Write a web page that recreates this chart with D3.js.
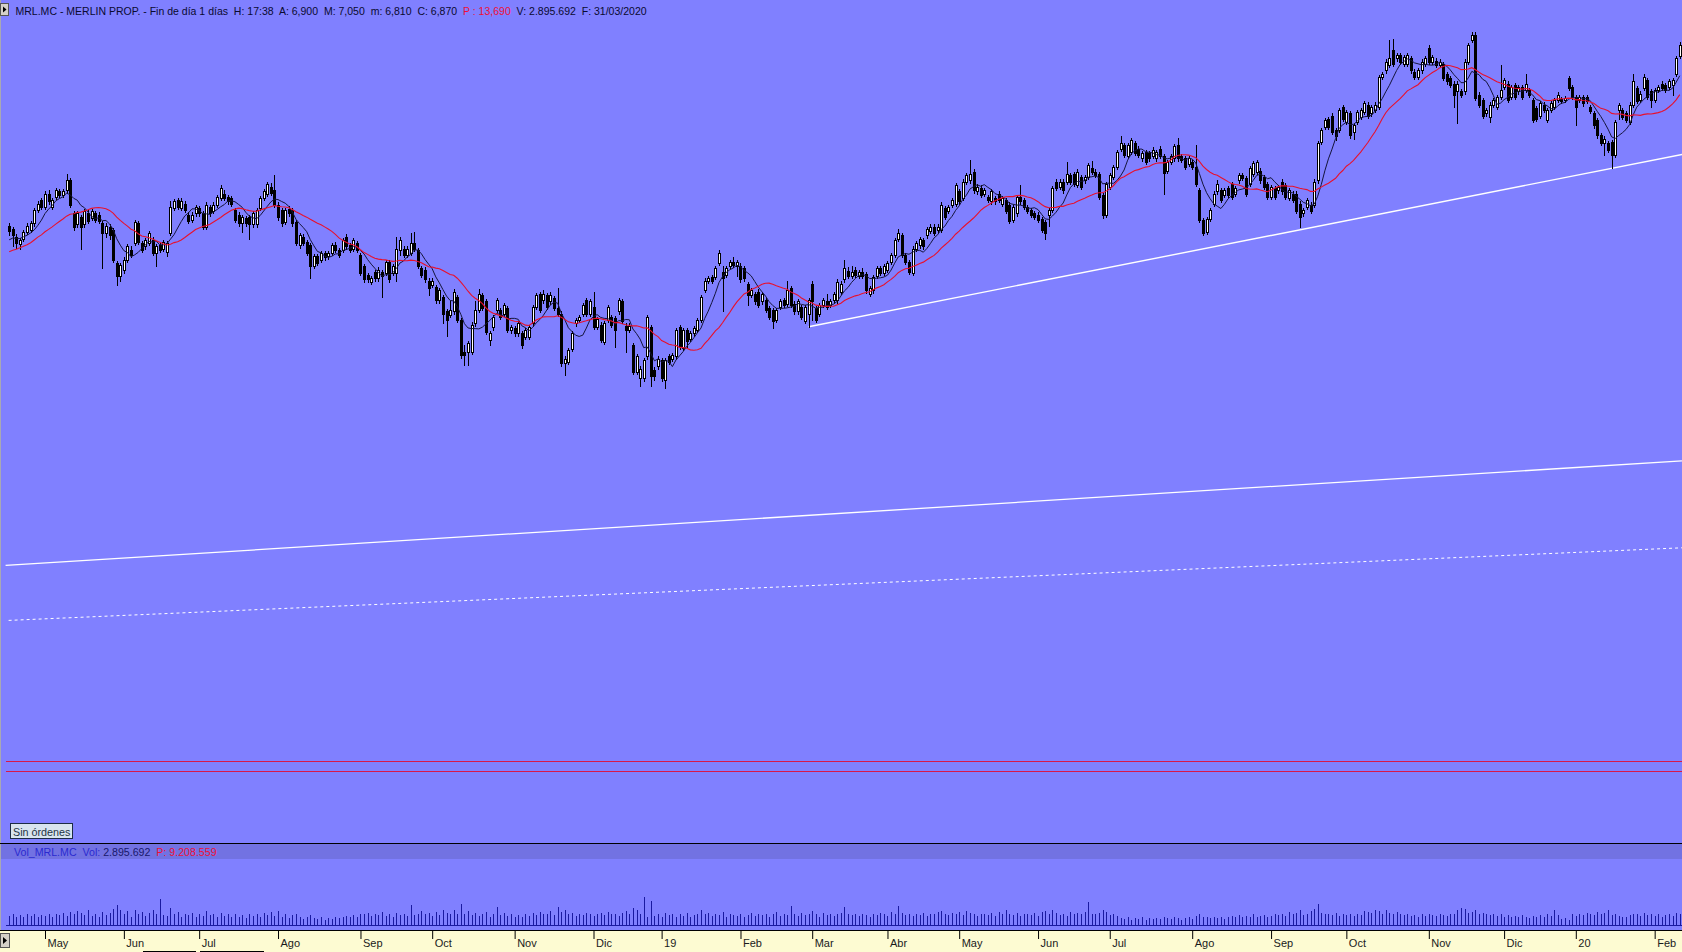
<!DOCTYPE html>
<html><head><meta charset="utf-8">
<script src="https://cdn.jsdelivr.net/npm/d3@7"></script>
<style>html,body{margin:0;padding:0;background:#8080ff;overflow:hidden}svg{display:block}</style>
</head><body><svg id="c" width="1682" height="952"></svg>
<script>
// ---------- DATA (daily candles, 2018-04 .. 2020-02) ----------
const monthLabels = ['May','Jun','Jul','Ago','Sep','Oct','Nov','Dic','19','Feb','Mar','Abr','May','Jun','Jul','Ago','Sep','Oct','Nov','Dic','20','Feb'];
const monthStart  = [10,32,53,75,98,118,141,163,182,204,224,245,265,287,307,330,352,373,396,417,437,459];

const warmupClose = [11.58,11.62,11.55,11.60,11.66,11.63,11.58,11.64,11.70,11.68,11.74,11.72,11.78,11.75,11.80,11.84,11.78,11.85,11.82];

const open = [
11.95,11.92,11.85,11.78,11.83,11.89,11.91,11.97,12.09,12.18,
12.12,12.24,12.12,12.21,12.26,12.23,12.27,12.36,12.06,11.96,
12.03,11.96,12.06,12.02,12.06,12.05,11.97,11.88,11.94,11.91,
11.61,11.49,11.55,11.64,11.73,11.79,11.97,11.79,11.76,11.79,
11.82,11.70,11.77,11.74,11.71,11.88,12.11,12.18,12.11,12.15,
12.05,12.00,12.06,12.11,12.06,11.94,12.12,12.08,12.14,12.20,
12.24,12.21,12.20,12.09,12.05,11.97,12.02,12.03,11.96,11.96,
12.11,12.20,12.24,12.30,12.27,12.14,12.09,11.98,12.10,12.09,
11.98,11.77,11.85,11.80,11.77,11.58,11.67,11.64,11.70,11.67,
11.70,11.77,11.73,11.73,11.85,11.77,11.74,11.79,11.68,11.58,
11.50,11.44,11.53,11.47,11.53,11.52,11.62,11.52,11.52,11.73,
11.74,11.68,11.70,11.79,11.73,11.56,11.55,11.45,11.41,11.39,
11.27,11.30,11.17,11.14,11.17,11.30,11.09,10.80,10.80,10.80,
11.06,11.18,11.32,11.26,10.91,11.03,11.18,11.18,11.15,11.20,
11.00,11.02,10.97,10.97,10.94,10.94,11.06,11.21,11.33,11.27,
11.32,11.26,11.29,11.20,11.15,10.70,10.71,10.83,11.06,11.09,
11.15,11.27,11.15,11.21,11.03,11.05,10.89,11.09,11.12,11.11,
11.17,11.26,11.04,11.00,10.86,10.62,10.56,10.56,10.76,11.03,
10.64,10.67,10.73,10.55,10.76,10.74,10.76,11.03,10.84,11.00,
10.92,10.97,11.00,11.09,11.36,11.45,11.48,11.48,11.61,11.53,
11.50,11.58,11.62,11.58,11.58,11.56,11.42,11.32,11.33,11.35,
11.26,11.27,11.20,11.18,11.09,11.21,11.27,11.24,11.38,11.24,
11.17,11.21,11.08,11.15,11.42,11.20,11.15,11.23,11.26,11.23,
11.27,11.27,11.35,11.46,11.54,11.49,11.55,11.49,11.53,11.51,
11.33,11.36,11.49,11.56,11.52,11.55,11.62,11.68,11.83,11.86,
11.68,11.62,11.52,11.74,11.77,11.82,11.86,11.90,11.94,11.91,
11.91,12.11,12.08,12.14,12.15,12.26,12.20,12.35,12.36,12.44,
12.26,12.29,12.24,12.21,12.17,12.20,12.24,12.15,12.18,12.14,
12.00,12.06,12.21,12.18,12.12,12.09,12.06,12.05,12.01,11.98,
12.05,12.09,12.35,12.30,12.35,12.35,12.41,12.42,12.32,12.39,
12.36,12.39,12.47,12.44,12.42,12.23,12.05,12.30,12.39,12.48,
12.65,12.68,12.58,12.62,12.70,12.65,12.56,12.62,12.61,12.58,
12.56,12.65,12.58,12.45,12.53,12.56,12.68,12.58,12.56,12.51,
12.53,12.48,12.27,12.00,11.89,12.01,12.15,12.26,12.27,12.23,
12.29,12.33,12.24,12.36,12.41,12.38,12.33,12.42,12.44,12.45,
12.39,12.33,12.21,12.29,12.27,12.35,12.32,12.20,12.24,12.24,
12.15,12.06,12.12,12.14,12.14,12.36,12.71,12.85,12.92,12.95,
12.82,12.82,13.03,12.89,12.97,12.80,12.89,12.94,12.98,13.05,
12.97,13.00,13.03,13.30,13.36,13.41,13.55,13.47,13.50,13.42,
13.42,13.47,13.35,13.30,13.36,13.42,13.56,13.44,13.45,13.41,
13.42,13.33,13.29,13.24,13.17,13.17,13.17,13.44,13.64,13.68,
13.14,13.09,12.97,12.94,13.05,13.03,13.12,13.21,13.24,13.12,
13.23,13.17,13.21,13.18,13.18,13.09,13.02,12.95,13.05,12.91,
13.00,13.03,13.09,13.10,13.09,13.29,13.21,13.12,13.09,13.12,
13.12,13.03,12.97,12.91,12.77,12.70,12.70,12.71,12.59,13.00,
13.00,12.97,12.89,13.05,13.20,13.09,13.20,13.27,13.17,13.09,
13.18,13.24,13.23,13.21,13.23,13.33,13.49];

const high = [
11.97,11.94,11.87,11.84,11.91,11.97,11.99,12.11,12.17,12.20,
12.26,12.27,12.20,12.29,12.28,12.28,12.42,12.38,12.08,12.08,
12.05,12.10,12.09,12.10,12.08,12.07,11.99,11.97,11.96,11.93,
11.63,11.61,11.66,11.78,11.76,12.00,11.99,11.81,11.84,11.90,
11.85,11.78,11.79,11.82,11.81,12.17,12.19,12.20,12.20,12.17,
12.07,12.07,12.14,12.13,12.08,12.16,12.14,12.16,12.23,12.32,
12.27,12.23,12.22,12.11,12.07,12.05,12.04,12.05,12.08,12.11,
12.22,12.28,12.35,12.34,12.41,12.16,12.11,12.11,12.13,12.11,
12.00,11.88,11.87,11.82,11.79,11.69,11.69,11.72,11.72,11.72,
11.79,11.80,11.75,11.84,11.87,11.79,11.84,11.81,11.70,11.60,
11.52,11.49,11.55,11.57,11.55,11.64,11.64,11.60,11.85,11.85,
11.76,11.76,11.88,11.89,11.75,11.58,11.57,11.47,11.47,11.41,
11.38,11.32,11.19,11.26,11.37,11.32,11.11,10.86,10.90,11.07,
11.26,11.37,11.34,11.28,10.99,11.14,11.29,11.20,11.25,11.22,
11.05,11.04,11.08,10.99,11.02,11.05,11.23,11.34,11.35,11.36,
11.34,11.35,11.31,11.38,11.17,10.76,10.84,10.99,11.11,11.14,
11.25,11.29,11.28,11.35,11.12,11.07,11.08,11.23,11.14,11.13,
11.29,11.28,11.06,11.06,10.88,10.78,10.67,10.75,11.14,11.05,
10.66,10.76,10.75,10.75,10.78,10.79,11.02,11.05,11.02,11.02,
10.99,11.04,11.11,11.32,11.47,11.49,11.50,11.58,11.73,11.58,
11.58,11.64,11.66,11.64,11.61,11.58,11.44,11.38,11.35,11.37,
11.35,11.29,11.22,11.20,11.20,11.28,11.29,11.45,11.40,11.26,
11.28,11.23,11.23,11.29,11.45,11.22,11.25,11.29,11.33,11.28,
11.35,11.46,11.45,11.64,11.57,11.58,11.57,11.55,11.56,11.53,
11.40,11.50,11.58,11.58,11.60,11.63,11.70,11.84,11.92,11.88,
11.70,11.64,11.76,11.81,11.85,11.84,11.94,11.96,11.96,11.96,
12.16,12.13,12.14,12.20,12.34,12.28,12.37,12.43,12.55,12.46,
12.33,12.32,12.29,12.23,12.28,12.22,12.26,12.22,12.20,12.16,
12.14,12.23,12.32,12.20,12.14,12.11,12.08,12.07,12.03,12.00,
12.11,12.31,12.37,12.37,12.37,12.53,12.43,12.44,12.46,12.41,
12.41,12.52,12.54,12.46,12.44,12.25,12.35,12.43,12.50,12.64,
12.76,12.70,12.70,12.75,12.72,12.67,12.63,12.64,12.63,12.66,
12.64,12.67,12.60,12.55,12.60,12.69,12.75,12.60,12.58,12.58,
12.55,12.68,12.29,12.02,12.03,12.11,12.26,12.36,12.29,12.29,
12.31,12.35,12.31,12.43,12.43,12.40,12.49,12.54,12.55,12.47,
12.41,12.35,12.32,12.31,12.32,12.37,12.34,12.29,12.26,12.26,
12.17,12.11,12.20,12.16,12.37,12.72,12.84,12.93,12.94,12.97,
12.84,13.02,13.05,13.00,12.99,12.88,13.00,13.02,13.08,13.07,
13.05,13.07,13.32,13.35,13.46,13.64,13.65,13.52,13.52,13.50,
13.52,13.49,13.37,13.38,13.46,13.49,13.59,13.50,13.47,13.46,
13.44,13.35,13.31,13.26,13.26,13.19,13.46,13.61,13.71,13.71,
13.16,13.11,13.02,13.07,13.11,13.14,13.41,13.29,13.26,13.23,
13.25,13.23,13.23,13.33,13.20,13.11,13.04,13.08,13.07,13.02,
13.08,13.11,13.16,13.12,13.13,13.31,13.23,13.14,13.14,13.14,
13.14,13.05,12.99,12.93,12.79,12.76,12.72,12.73,12.91,13.06,
13.02,12.99,13.07,13.33,13.22,13.17,13.33,13.29,13.19,13.20,
13.23,13.26,13.25,13.28,13.29,13.49,13.62];

const low = [
11.86,11.76,11.75,11.74,11.81,11.87,11.89,11.95,12.07,12.10,
12.10,12.15,12.10,12.19,12.21,12.21,12.25,12.12,11.91,11.94,
11.74,11.94,11.97,12.00,11.98,11.97,11.56,11.85,11.83,11.62,
11.41,11.45,11.52,11.62,11.66,11.77,11.78,11.71,11.74,11.77,
11.68,11.58,11.71,11.72,11.67,11.86,12.09,12.10,12.09,12.07,
11.97,11.98,12.04,12.04,11.92,11.92,12.04,12.06,12.12,12.18,
12.18,12.15,12.13,11.98,11.95,11.89,11.95,11.83,11.94,11.94,
12.09,12.18,12.22,12.23,12.12,12.00,11.95,11.96,12.04,11.95,
11.77,11.75,11.77,11.68,11.47,11.56,11.59,11.62,11.64,11.65,
11.68,11.71,11.66,11.71,11.74,11.71,11.72,11.71,11.50,11.44,
11.44,11.42,11.45,11.45,11.30,11.50,11.44,11.50,11.45,11.68,
11.66,11.66,11.68,11.72,11.56,11.48,11.44,11.32,11.39,11.25,
11.25,11.06,10.95,11.12,11.15,11.07,10.75,10.68,10.68,10.78,
11.04,11.16,11.18,10.96,10.86,11.00,11.16,11.10,11.13,10.98,
10.97,10.95,10.95,10.84,10.92,10.92,11.04,11.19,11.16,11.25,
11.19,11.24,11.18,11.13,10.67,10.59,10.69,10.81,11.04,11.07,
11.13,11.13,11.13,11.01,11.01,10.89,10.87,11.07,11.03,10.85,
11.15,11.06,10.80,10.98,10.60,10.60,10.49,10.54,10.74,10.49,
10.55,10.65,10.54,10.47,10.69,10.72,10.74,10.83,10.82,10.85,
10.90,10.95,10.98,11.07,11.35,11.43,11.43,11.46,11.59,11.17,
11.48,11.56,11.57,11.49,11.44,11.45,11.23,11.30,11.24,11.21,
11.24,11.16,11.10,11.02,11.07,11.19,11.21,11.22,11.21,11.15,
11.15,11.10,11.06,11.03,11.09,11.07,11.13,11.21,11.19,11.21,
11.25,11.25,11.33,11.44,11.47,11.47,11.48,11.47,11.47,11.34,
11.31,11.34,11.47,11.50,11.50,11.53,11.60,11.66,11.81,11.66,
11.60,11.51,11.50,11.72,11.75,11.74,11.84,11.88,11.86,11.89,
11.89,12.01,12.06,12.12,12.13,12.15,12.18,12.33,12.34,12.25,
12.24,12.21,12.22,12.16,12.15,12.15,12.16,12.13,12.06,11.97,
11.98,12.04,12.15,12.10,12.06,12.03,12.01,11.98,11.89,11.83,
11.95,12.07,12.27,12.28,12.25,12.33,12.33,12.31,12.30,12.28,
12.34,12.37,12.42,12.39,12.19,12.02,12.03,12.28,12.37,12.46,
12.63,12.57,12.56,12.60,12.59,12.57,12.54,12.51,12.54,12.56,
12.54,12.56,12.24,12.43,12.51,12.54,12.54,12.53,12.46,12.49,
12.46,12.31,11.98,11.86,11.87,11.99,12.13,12.24,12.16,12.21,
12.21,12.19,12.22,12.34,12.36,12.22,12.31,12.40,12.42,12.34,
12.28,12.19,12.19,12.19,12.25,12.24,12.19,12.18,12.16,12.06,
11.94,12.04,12.10,12.06,12.12,12.34,12.69,12.83,12.83,12.78,
12.73,12.80,12.90,12.87,12.75,12.74,12.87,12.92,12.96,12.93,
12.95,12.98,13.01,13.28,13.34,13.39,13.40,13.45,13.42,13.40,
13.40,13.34,13.28,13.28,13.34,13.40,13.42,13.42,13.39,13.39,
13.27,13.24,13.21,13.03,12.88,13.12,13.15,13.42,13.62,13.09,
13.03,12.93,12.95,12.89,13.03,13.01,13.10,13.19,13.07,13.10,
13.10,13.15,13.10,13.16,13.12,12.89,12.90,12.93,12.98,12.89,
12.98,13.01,13.07,13.06,13.07,13.18,13.10,12.86,13.07,13.04,
13.06,12.97,12.84,12.75,12.68,12.59,12.62,12.47,12.57,12.92,
12.92,12.89,12.87,13.03,13.06,13.07,13.18,13.10,13.03,13.07,
13.16,13.18,13.16,13.19,13.14,13.31,13.47];

const close = [
11.90,11.86,11.79,11.82,11.89,11.95,11.97,12.09,12.15,12.12,
12.24,12.17,12.18,12.27,12.23,12.26,12.36,12.14,11.94,12.06,
11.94,12.08,11.99,12.08,12.00,11.99,11.88,11.95,11.86,11.64,
11.49,11.59,11.64,11.76,11.68,11.98,11.80,11.73,11.82,11.88,
11.70,11.76,11.73,11.80,11.79,12.12,12.17,12.12,12.17,12.09,
11.99,12.05,12.12,12.06,11.94,12.14,12.06,12.14,12.21,12.29,
12.20,12.17,12.15,12.00,11.97,12.03,11.97,11.96,12.06,12.09,
12.20,12.26,12.33,12.25,12.14,12.03,11.97,12.09,12.06,11.97,
11.79,11.86,11.79,11.70,11.58,11.67,11.61,11.70,11.66,11.70,
11.77,11.73,11.68,11.82,11.76,11.73,11.82,11.73,11.52,11.46,
11.46,11.47,11.47,11.55,11.49,11.62,11.46,11.58,11.74,11.82,
11.68,11.74,11.79,11.74,11.58,11.50,11.46,11.38,11.45,11.27,
11.36,11.15,11.09,11.18,11.35,11.09,10.77,10.77,10.88,11.05,
11.18,11.33,11.20,10.98,10.97,11.12,11.27,11.12,11.23,11.00,
11.03,10.97,11.06,10.86,11.00,11.03,11.21,11.32,11.18,11.33,
11.21,11.32,11.20,11.15,10.70,10.74,10.82,10.97,11.09,11.12,
11.23,11.15,11.26,11.03,11.10,10.91,11.06,11.21,11.05,11.00,
11.27,11.08,11.00,11.04,10.62,10.76,10.65,10.73,11.12,10.58,
10.58,10.74,10.56,10.73,10.71,10.77,11.00,10.85,11.00,10.90,
10.97,11.02,11.09,11.30,11.45,11.47,11.45,11.56,11.70,11.47,
11.56,11.62,11.59,11.62,11.46,11.47,11.32,11.36,11.26,11.23,
11.33,11.18,11.12,11.08,11.18,11.26,11.23,11.36,11.23,11.17,
11.26,11.12,11.21,11.27,11.26,11.09,11.23,11.27,11.21,11.26,
11.33,11.44,11.42,11.56,11.49,11.53,11.50,11.53,11.49,11.36,
11.38,11.48,11.56,11.52,11.58,11.61,11.68,11.82,11.88,11.68,
11.62,11.53,11.74,11.79,11.83,11.76,11.92,11.94,11.88,11.94,
12.14,12.03,12.12,12.18,12.32,12.17,12.35,12.41,12.42,12.27,
12.30,12.23,12.27,12.18,12.26,12.17,12.18,12.20,12.08,11.99,
12.12,12.21,12.17,12.12,12.08,12.05,12.03,12.00,11.91,11.88,
12.09,12.29,12.29,12.35,12.27,12.42,12.35,12.33,12.44,12.30,
12.39,12.50,12.44,12.41,12.21,12.05,12.33,12.41,12.48,12.62,
12.70,12.59,12.68,12.73,12.61,12.59,12.61,12.53,12.56,12.64,
12.62,12.58,12.43,12.53,12.58,12.67,12.56,12.55,12.48,12.56,
12.48,12.33,12.00,11.88,12.01,12.09,12.24,12.33,12.18,12.27,
12.23,12.21,12.29,12.41,12.38,12.24,12.47,12.52,12.53,12.36,
12.30,12.21,12.30,12.21,12.30,12.26,12.21,12.27,12.18,12.08,
12.03,12.09,12.18,12.08,12.35,12.70,12.82,12.91,12.85,12.80,
12.76,13.00,12.92,12.98,12.77,12.86,12.98,13.00,13.06,12.95,
13.03,13.05,13.30,13.33,13.44,13.47,13.42,13.50,13.44,13.48,
13.50,13.36,13.30,13.36,13.44,13.47,13.44,13.48,13.41,13.44,
13.29,13.26,13.23,13.14,13.24,13.14,13.44,13.59,13.68,13.11,
13.05,12.95,13.00,13.05,13.09,13.12,13.18,13.27,13.09,13.21,
13.12,13.21,13.12,13.24,13.14,12.91,12.92,13.06,13.00,13.00,
13.06,13.09,13.14,13.08,13.11,13.20,13.12,13.03,13.12,13.06,
13.08,12.99,12.86,12.77,12.70,12.74,12.64,12.59,12.89,13.05,
12.94,12.91,13.05,13.26,13.08,13.15,13.30,13.12,13.09,13.18,
13.21,13.20,13.18,13.26,13.27,13.47,13.59];

// volume in millions of shares
const volume = [
1.2,1.4,1.1,1.3,1.0,1.4,1.2,1.5,1.1,1.3,
1.2,1.5,1.0,1.4,1.3,1.6,1.2,1.7,1.4,1.8,
1.6,1.3,1.9,1.2,1.5,1.0,1.7,1.3,1.6,2.1,
2.6,1.9,1.4,1.8,1.1,2.0,1.5,1.7,1.2,1.6,
1.9,1.4,3.4,1.3,1.2,2.2,1.4,1.7,1.1,1.5,
1.3,1.6,1.0,1.5,1.2,1.8,1.3,1.4,1.0,1.6,
1.2,1.5,1.1,1.4,1.0,1.3,0.9,1.4,1.2,1.5,
1.1,1.6,1.3,1.7,1.2,1.8,1.1,1.4,0.9,1.3,
1.5,1.0,0.8,1.1,1.3,0.9,0.8,1.0,0.7,0.9,
0.8,1.0,0.9,1.1,1.2,1.0,1.3,1.1,1.5,1.4,
1.6,1.2,1.5,1.3,1.7,1.2,1.4,1.1,1.6,1.3,
1.5,1.2,2.6,1.3,1.5,1.8,1.4,1.6,1.2,1.7,
1.3,1.9,1.6,1.4,2.0,1.5,2.7,1.4,1.8,1.3,
1.6,1.2,1.5,1.7,1.1,1.4,2.4,1.3,1.6,1.2,
1.4,1.0,1.3,1.1,1.5,1.2,1.6,1.3,1.7,1.4,
1.5,1.8,1.3,2.3,1.7,1.9,1.4,1.6,1.2,1.5,
1.3,1.6,1.4,1.2,1.5,1.6,1.3,1.7,1.4,1.5,
1.2,1.6,1.8,1.4,2.2,1.9,1.5,3.6,1.1,3.1,
1.2,1.4,1.0,1.6,1.3,1.5,1.1,1.4,1.2,1.6,
1.0,1.3,1.5,2.0,1.4,1.6,1.2,1.5,1.3,1.7,
1.1,1.4,1.3,1.2,1.5,1.1,1.3,1.6,1.2,1.4,
1.3,1.5,1.0,1.4,1.7,1.2,1.5,1.3,2.5,1.4,
1.2,1.6,1.3,1.5,1.8,1.4,1.1,1.6,1.3,1.5,
1.2,1.4,1.6,2.3,1.4,1.3,1.5,1.2,1.4,1.3,
1.1,1.5,1.3,1.6,1.4,1.2,1.7,1.5,2.5,1.6,
1.3,1.5,1.2,1.4,1.3,1.6,1.2,1.5,1.4,1.7,
1.8,1.4,1.3,1.6,1.5,1.7,1.3,1.8,1.6,1.4,
1.2,1.5,1.4,1.3,1.6,1.2,1.7,1.4,2.0,1.5,
1.3,1.6,1.2,1.5,1.4,1.3,1.6,1.2,1.7,1.8,
1.4,1.9,1.6,1.3,1.5,1.2,1.7,1.4,1.6,1.5,
1.7,3.0,1.5,1.4,1.6,1.9,1.7,1.3,1.5,1.2,
0.9,0.8,1.0,0.7,0.9,0.8,1.0,0.7,0.9,0.8,
0.9,0.8,1.1,0.9,0.8,1.0,0.9,0.7,0.9,1.0,
0.8,1.2,1.4,1.1,1.0,0.9,1.1,0.9,1.0,0.8,
1.0,1.2,1.1,1.3,1.0,1.2,1.1,1.4,1.0,1.2,
1.3,1.1,1.2,1.4,1.3,1.5,1.2,1.7,1.4,1.6,
1.9,1.3,1.5,1.8,2.1,2.8,1.6,1.4,1.5,1.3,
1.6,1.2,1.4,1.3,1.5,1.2,1.4,1.3,1.8,1.7,
1.6,1.9,1.8,1.5,1.9,1.6,1.4,1.7,1.5,1.3,
1.4,1.2,1.3,1.1,1.4,1.2,1.5,1.3,1.2,1.4,
1.3,1.2,1.4,1.5,2.0,2.2,2.1,1.6,1.7,1.9,
1.5,1.6,1.4,1.3,1.5,1.2,1.4,1.1,1.3,1.0,
1.2,1.0,1.3,1.1,0.9,1.2,1.0,1.3,1.1,1.4,
1.2,2.0,1.3,0.8,0.9,0.7,1.4,1.2,1.5,1.3,
1.6,1.5,1.3,1.7,1.4,1.6,1.9,1.3,1.5,1.2,
1.0,1.1,1.3,1.5,1.4,1.2,1.6,1.3,1.5,1.2,
1.4,1.1,1.3,1.5,1.2,1.6,1.4];

// drawn lines: support trendline (two lows), channel lines, horizontal levels
const trendAnchors = [[223, 11.03], [447, 12.47]];
const channelSolid  = [[-1, 8.86], [466.6, 9.81]];
const channelDashed = [[-0.15, 8.36], [466.6, 9.02]];
const levels = [7.085, 6.99];

const smaShort = 7, smaLong = 20;

// ---------- DRAWING ----------
const W = 1682, H = 952, N = close.length;
const FONT = 'Liberation Sans, Arial, sans-serif';
const svg = d3.select('#c');
svg.append('rect').attr('width', W).attr('height', H).attr('fill', '#8080ff');

const x = d3.scaleLinear().domain([-0.5, N - 0.5]).range([7.36, 7.36 + 3.585 * N]);
const y = d3.scaleLinear().domain([14, 6.3364]).range([0, 843]);
const yv = d3.scaleLinear().domain([0, 8.5]).range([925, 860]);

const defs = svg.append('defs');
defs.append('clipPath').attr('id', 'mc').append('rect').attr('x', 2).attr('y', 20).attr('width', W - 2).attr('height', 822);
const g = svg.append('g').attr('clip-path', 'url(#mc)');

// channel and trend lines
const lg = d3.line().x(d => x(d[0])).y(d => y(d[1]));
g.append('path').attr('d', lg(channelSolid)).attr('stroke', '#ffffff').attr('stroke-width', 1.3).attr('fill', 'none');
g.append('path').attr('d', lg(channelDashed)).attr('stroke', '#ffffff').attr('stroke-width', 1).attr('stroke-dasharray', '3,3').attr('fill', 'none');
const [a, b] = trendAnchors;
const iEnd = x.invert(W + 2);
const pEnd = a[1] + (iEnd - a[0]) * (b[1] - a[1]) / (b[0] - a[0]);
g.append('path').attr('d', lg([a, [iEnd, pEnd]])).attr('stroke', '#ffffff').attr('stroke-width', 1.4).attr('fill', 'none');
g.selectAll('line.lvl').data(levels).join('line').attr('class', 'lvl')
  .attr('x1', 6).attr('x2', W).attr('y1', d => Math.round(y(d)) + 0.5).attr('y2', d => Math.round(y(d)) + 0.5)
  .attr('stroke', '#d8184a').attr('stroke-width', 1);

// candles
const idx = d3.range(N);
const cg = g.append('g').attr('shape-rendering', 'crispEdges');
cg.selectAll('line.w').data(idx).join('line').attr('class', 'w')
  .attr('x1', i => Math.round(x(i)) + 0.5).attr('x2', i => Math.round(x(i)) + 0.5)
  .attr('y1', i => Math.round(y(Math.max(high[i], open[i], close[i]))))
  .attr('y2', i => Math.round(y(Math.min(low[i], open[i], close[i]))) + 1)
  .attr('stroke', '#000').attr('stroke-width', 1);
cg.selectAll('rect.b').data(idx).join('rect').attr('class', 'b')
  .each(function (i) {
    const up = close[i] >= open[i];
    const t = Math.round(y(Math.max(open[i], close[i])));
    const bt = Math.round(y(Math.min(open[i], close[i])));
    const h = Math.max(1, bt - t);
    const cx = Math.round(x(i));
    const s = d3.select(this);
    if (up) s.attr('x', cx - 0.5).attr('y', t + 0.5).attr('width', 2).attr('height', Math.max(1, h)).attr('fill', '#ffffff').attr('stroke', '#000').attr('stroke-width', 1);
    else s.attr('x', cx - 1).attr('y', t).attr('width', 3).attr('height', h + 1).attr('fill', '#000');
  });

// moving averages (computed from closes, with warm-up closes)
const all = warmupClose.concat(close);
const off = warmupClose.length;
function sma(k) { return idx.map(i => { const s = Math.max(0, i + off - k + 1); return d3.mean(all.slice(s, i + off + 1)); }); }
const maS = sma(smaShort), maL = sma(smaLong);
const ml = d3.line().x((d, i) => x(i)).y(d => y(d));
g.append('path').attr('d', ml(maS)).attr('fill', 'none').attr('stroke', '#14143c').attr('stroke-width', 1);
g.append('path').attr('d', ml(maL)).attr('fill', 'none').attr('stroke', '#e8102c').attr('stroke-width', 1.1);

// left border
svg.append('rect').attr('x', 0).attr('y', 0).attr('width', 1).attr('height', 931).attr('fill', '#a8a8b4');

// header
const hb = svg.append('g');
hb.append('rect').attr('x', 0.5).attr('y', 3.5).attr('width', 8).attr('height', 12).attr('fill', '#d4d0c8').attr('stroke', '#555');
hb.append('path').attr('d', 'M3,6.5 L6.5,9.5 L3,12.5 Z').attr('fill', '#000');
const head = svg.append('text').attr('x', 15.5).attr('y', 15).attr('font-family', FONT).attr('font-size', 10).attr('fill', '#0a0a30').attr('xml:space', 'preserve').style('white-space', 'pre');
head.append('tspan').text('MRL.MC - MERLIN PROP. - Fin de día 1 días  H: 17:38  A: 6,900  M: 7,050  m: 6,810  C: 6,870  ');
head.append('tspan').attr('fill', '#ee1038').text('P : 13,690');
head.append('tspan').text('  V: 2.895.692  F: 31/03/2020');
head.attr('font-size', 10 * 632 / head.node().getComputedTextLength());

// "Sin órdenes" button
svg.append('rect').attr('x', 10.5).attr('y', 823.5).attr('width', 62).attr('height', 15).attr('fill', '#d8e4ee').attr('stroke', '#1c2c44');
const so = svg.append('text').attr('x', 13).attr('y', 835.5).attr('font-family', FONT).attr('font-size', 11).attr('fill', '#1e3444').text('Sin órdenes');
so.attr('font-size', 11 * 57.5 / so.node().getComputedTextLength());

// volume panel
svg.append('rect').attr('x', 0).attr('y', 843).attr('width', W).attr('height', 1).attr('fill', '#000');
svg.append('rect').attr('x', 1).attr('y', 844).attr('width', W - 1).attr('height', 15).attr('fill', '#7272e2');
const vt = svg.append('text').attr('x', 14).attr('y', 855.5).attr('font-family', FONT).attr('font-size', 10).attr('xml:space', 'preserve').style('white-space', 'pre');
vt.append('tspan').attr('fill', '#2a2ad0').text('Vol_MRL.MC  Vol: ');
vt.append('tspan').attr('fill', '#18186a').text('2.895.692  ');
vt.append('tspan').attr('fill', '#ee1038').text('P: 9.208.559');
vt.attr('font-size', 10 * 203 / vt.node().getComputedTextLength());

const vg = svg.append('g').attr('shape-rendering', 'crispEdges');
vg.selectAll('line').data(idx).join('line')
  .attr('x1', i => Math.round(x(i)) + 0.5).attr('x2', i => Math.round(x(i)) + 0.5)
  .attr('y1', yv(0)).attr('y2', i => Math.round(yv(volume[i])))
  .attr('stroke', '#1a1aa0').attr('stroke-width', 1);
vg.append('line').attr('x1', 6).attr('x2', W).attr('y1', Math.round(yv(0)) + 0.5).attr('y2', Math.round(yv(0)) + 0.5).attr('stroke', '#1a1aa0');

// time axis
svg.append('rect').attr('x', 0).attr('y', 931).attr('width', W).attr('height', 21).attr('fill', '#fdfbd2');
svg.append('rect').attr('x', 0).attr('y', 930).attr('width', W).attr('height', 1).attr('fill', '#000');
const ax = svg.append('g').attr('transform', 'translate(0,931)')
  .call(d3.axisBottom(x).tickValues(monthStart).tickFormat((d, k) => monthLabels[k]).tickSize(8).tickPadding(0));
ax.select('.domain').remove();
ax.selectAll('.tick line').attr('stroke', '#000');
ax.selectAll('.tick text').attr('text-anchor', 'start').attr('x', 2).attr('font-family', FONT).attr('font-size', 11).attr('fill', '#1a1a1a');
svg.append('rect').attr('x', 0.5).attr('y', 933.5).attr('width', 9).attr('height', 14).attr('fill', '#d4d0c8').attr('stroke', '#555');
svg.append('path').attr('d', 'M3,937 L7,940.5 L3,944 Z').attr('fill', '#000');
svg.append('path').attr('d', 'M143,951.5 H196 M200,951.5 H264').attr('stroke', '#000').attr('stroke-width', 1);
</script></body></html>
